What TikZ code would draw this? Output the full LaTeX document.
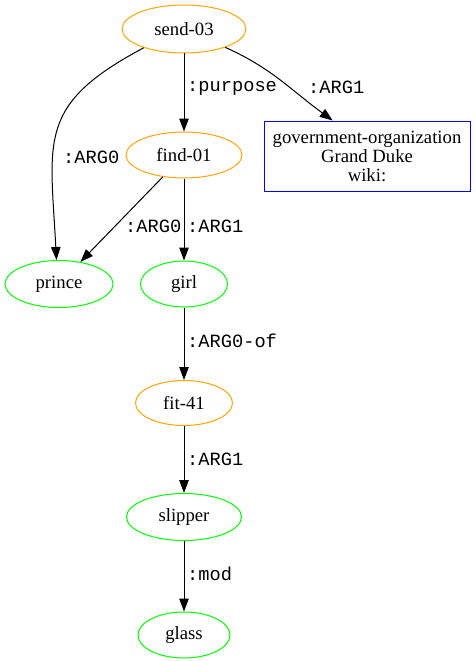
\documentclass[tikz,border=0pt]{standalone}
\usepackage{fontspec}
\setmainfont{Liberation Serif}
\setmonofont{Liberation Mono}
\usepackage{xcolor}
\usepackage{tikz}
\usetikzlibrary{arrows.meta}
\usetikzlibrary{shapes.geometric}
\definecolor{amrorange}{HTML}{FFA500}
\definecolor{amrgreen}{HTML}{00FF00}
\definecolor{amrblue}{HTML}{0000FF}

\begin{document}
\begin{tikzpicture}[x=1pt, y=-1pt,
        concept/.style={ellipse, draw=amrorange, line width=1pt, inner sep=0pt,
            font=\fontsize{18.7}{19}\selectfont},
        entity/.style={concept, draw=amrgreen},
        named/.style={rectangle, draw=amrblue, line width=1pt, inner sep=0pt,
            align=center, minimum width=206pt, minimum height=70pt,
            font=\fontsize{18.7}{19}\selectfont},
        role/.style={anchor=west, inner sep=0pt, font=\ttfamily\fontsize{18.7}{19}\selectfont},
        rel/.style={-{Triangle[length=13pt, width=9.5pt]}, line width=1pt}]
        \useasboundingbox[fill=white] (0,0) rectangle (475,661);

        % Nodi
        \node[concept, minimum width=124pt, minimum height=48pt] (send) at (184,29) {send-03};
        \node[concept, minimum width=116pt, minimum height=46pt] (find) at (184,155) {find-01};
        \node[named] (duke) at (367,156) {government-organization\\Grand Duke\\wiki:};
        \node[entity, minimum width=108pt, minimum height=47pt] (prince) at (59,284) {prince};
        \node[entity, minimum width=87pt, minimum height=46pt] (girl) at (184,284) {girl};
        \node[concept, minimum width=97pt, minimum height=45pt] (fit) at (184,403) {fit-41};
        \node[entity, minimum width=115pt, minimum height=47pt] (slipper) at (184,517) {slipper};
        \node[entity, minimum width=92pt, minimum height=46pt] (glass) at (184,635) {glass};

        % Archi
        \draw[rel] (send) -- (find);
        \draw[rel] (send.-24) to[out=-24, in=144] (duke.134);
        \draw[rel] (send.205) to[out=208, in=93, looseness=1.35] (prince.96);
        \draw[rel] (find) -- (prince);
        \draw[rel] (find) -- (girl);
        \draw[rel] (girl) -- (fit);
        \draw[rel] (fit) -- (slipper);
        \draw[rel] (slipper) -- (glass);

        % Etichette
        \node[role] (lpurpose) at (187,88) {:purpose};
        \node[role] (lsendarg1) at (308,87) {:ARG1};
        \node[role] (lsendarg0) at (63,157) {:ARG0};
        \node[role] (lfindarg0) at (125,226) {:ARG0};
        \node[role] (lfindarg1) at (187,226) {:ARG1};
        \node[role] (larg0of) at (187,341) {:ARG0-of};
        \node[role] (lfitarg1) at (187,459) {:ARG1};
        \node[role] (lmod) at (187,574) {:mod};
    \end{tikzpicture}
\end{document}
